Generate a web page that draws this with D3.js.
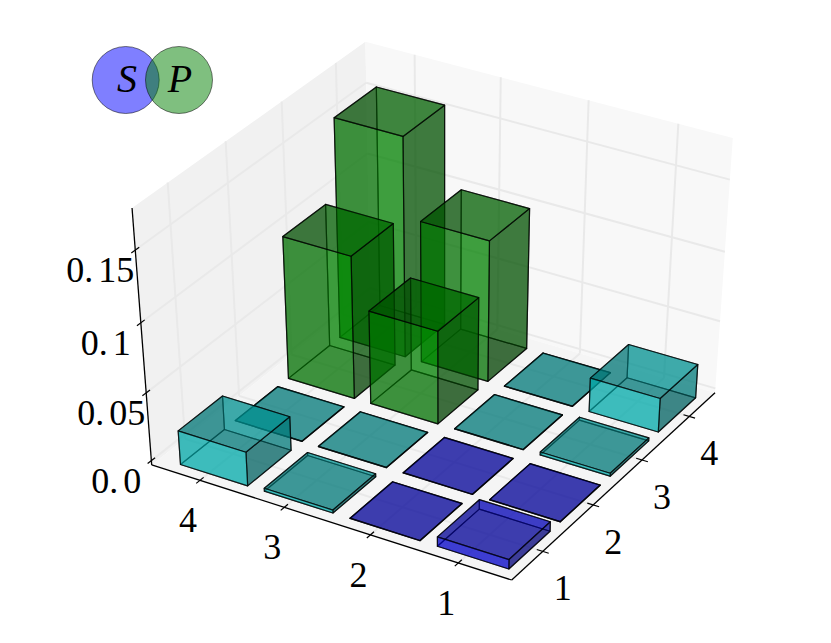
<!DOCTYPE html>
<html>
<head>
<meta charset="utf-8">
<style>
body { margin: 0; background: #fff; }
text { font-family: "Liberation Serif", serif; fill: #000; }
</style>
</head>
<body>
<script src="https://cdn.jsdelivr.net/npm/d3@7"></script>
<script>
// bar categories on the two floor axes
var xCats = [1, 2, 3, 4];
var yCats = [1, 2, 3, 4];
var zTicks = [0, 0.05, 0.1, 0.15];
var zLabels = ['0.0', '0.05', '0.1', '0.15'];

// heights, one row per y category
var heights = [
	[0.0070, 0.0002, 0.0022, 0.0250],
	[0.0002, 0.0002, 0.0002, 0.0002],
	[0.0022, 0.0002, 0.0682, 0.1028],
	[0.0250, 0.0002, 0.1038, 0.1587]
];
// colour family of each bar
var phases = [
	['blue', 'blue', 'teal', 'teal'],
	['blue', 'blue', 'teal', 'teal'],
	['teal', 'teal', 'green', 'green'],
	['teal', 'teal', 'green', 'green']
];

var baseColor = { blue: [0, 0, 250], teal: [0, 200, 200], green: [0, 132, 0] };
var shades = { top: 0.73, bottom: 0.34, frontLeft: 1.1, frontRight: 0.56, backLeft: 0.3, backRight: 0.7 };
var faceAlpha = 0.5;

var width = 831, height = 643;

// box coordinates 0..1 to screen: fitted perspective of the axes box
var origin = [511.7, 580], ax = [254.1, -159.4], ay = [-353.4, -94.8], az = [-29.2, -281.9];
var persp = [0.071, 0.0435, -0.0658];

function depth(p) {
	return 1 + persp[0] * p[0] + persp[1] * p[1] + persp[2] * p[2];
}

function project(p) {
	var w = depth(p);
	return [
		(origin[0] + ax[0] * p[0] + ay[0] * p[1] + az[0] * p[2]) / w,
		(origin[1] + ax[1] * p[0] + ay[1] * p[1] + az[1] * p[2]) / w
	];
}

var xScale = d3.scaleLinear().domain([1, 4]).range([0.144, 0.8655]);
var yScale = d3.scaleLinear().domain([1, 4]).range([0.143, 0.861]);
var zScale = d3.scaleLinear().domain([0, 0.15]).range([0.018, 0.845]);

var polygon = d3.line().curve(d3.curveLinearClosed);
var segment = d3.line();

var svg = d3.select("body").append("svg")
	.attr("width", width)
	.attr("height", height);

function drawPlane(corners, fill) {
	svg.append("path")
		.attr("d", polygon(corners.map(project)))
		.attr("fill", fill)
		.attr("stroke", "none");
}

function drawLine(a, b, color, lineWidth) {
	svg.append("path")
		.attr("d", segment([project(a), project(b)]))
		.attr("fill", "none")
		.attr("stroke", color)
		.attr("stroke-width", lineWidth);
}

// panes
drawPlane([[0, 1, 0], [1, 1, 0], [1, 1, 1], [0, 1, 1]], "#f1f1f1");
drawPlane([[1, 0, 0], [1, 1, 0], [1, 1, 1], [1, 0, 1]], "#f8f8f8");
drawPlane([[0, 0, 0], [1, 0, 0], [1, 1, 0], [0, 1, 0]], "#f5f5f5");

// grid
var gridColor = "#e9e9e9";
xCats.forEach(function(d) {
	var x = xScale(d);
	drawLine([x, 0, 0], [x, 1, 0], gridColor, 2);
	drawLine([x, 1, 0], [x, 1, 1], gridColor, 2);
});
yCats.forEach(function(d) {
	var y = yScale(d);
	drawLine([0, y, 0], [1, y, 0], gridColor, 2);
	drawLine([1, y, 0], [1, y, 1], gridColor, 2);
});
zTicks.forEach(function(d) {
	var z = zScale(d);
	drawLine([0, 1, z], [1, 1, z], gridColor, 2);
	drawLine([1, 1, z], [1, 0, z], gridColor, 2);
});

// axis lines, ticks and labels
drawLine([0, 0, 0], [1, 0, 0], "#000", 1.3);
drawLine([0, 0, 0], [0, 1, 0], "#000", 1.3);
drawLine([0, 1, 0], [0, 1, 1], "#000", 1.3);

var tickHalf = 0.016;

function label(pos, dx, dy, str) {
	var t = svg.append("text")
		.attr("x", pos[0] + dx)
		.attr("y", pos[1] + dy)
		.attr("text-anchor", "middle")
		.attr("dominant-baseline", "central")
		.attr("font-size", 36);
	var parts = str.split('.');
	if (parts.length == 2) {
		t.append("tspan").text(parts[0] + '.');
		t.append("tspan").attr("dx", 5).text(parts[1]);
	} else {
		t.text(str);
	}
}

xCats.forEach(function(d) {
	var x = xScale(d);
	drawLine([x, -tickHalf, 0], [x, tickHalf, 0], "#000", 1.2);
	label(project([x, 0, 0]), 20, 37, String(d));
});
yCats.forEach(function(d) {
	var y = yScale(d);
	drawLine([-tickHalf, y, 0], [tickHalf, y, 0], "#000", 1.2);
	label(project([0, y, 0]), -12, 40, String(d));
});
zTicks.forEach(function(d, i) {
	var z = zScale(d);
	drawLine([-tickHalf, 1, z], [tickHalf, 1, z], "#000", 1.2);
	label(project([0, 1, z]), -35, 20, zLabels[i]);
});

// bars: all faces sorted back to front
var barLow = -0.123, barHigh = 0.069;
var faces = [];

function addFace(corners, kind, family) {
	var mean = d3.mean(corners, depth);
	var c = baseColor[family].map(function(v) { return Math.round(v * shades[kind]); });
	faces.push({ corners: corners, mean: mean, fill: d3.rgb(c[0], c[1], c[2]) });
}

yCats.forEach(function(yc, r) {
	xCats.forEach(function(xc, q) {
		var x0 = xScale(xc) + barLow, x1 = xScale(xc) + barHigh;
		var y0 = yScale(yc) + barLow, y1 = yScale(yc) + barHigh;
		var z0 = zScale(0), z1 = zScale(heights[r][q]);
		var family = phases[r][q];
		addFace([[x0, y0, z0], [x1, y0, z0], [x1, y1, z0], [x0, y1, z0]], "bottom", family);
		addFace([[x0, y0, z1], [x1, y0, z1], [x1, y1, z1], [x0, y1, z1]], "top", family);
		addFace([[x0, y0, z0], [x0, y1, z0], [x0, y1, z1], [x0, y0, z1]], "frontLeft", family);
		addFace([[x0, y0, z0], [x1, y0, z0], [x1, y0, z1], [x0, y0, z1]], "frontRight", family);
		addFace([[x0, y1, z0], [x1, y1, z0], [x1, y1, z1], [x0, y1, z1]], "backLeft", family);
		addFace([[x1, y0, z0], [x1, y1, z0], [x1, y1, z1], [x1, y0, z1]], "backRight", family);
	});
});

faces.sort(function(a, b) { return d3.descending(a.mean, b.mean); });

svg.append("g").selectAll("path")
	.data(faces)
	.enter().append("path")
	.attr("d", function(d) { return polygon(d.corners.map(project)); })
	.attr("fill", function(d) { return d.fill; })
	.attr("fill-opacity", faceAlpha)
	.attr("stroke", "#000")
	.attr("stroke-opacity", 0.7)
	.attr("stroke-width", 1.2)
	.attr("stroke-linejoin", "round");

// small S / P venn in the corner
var venn = svg.append("g");
venn.append("circle").attr("cx", 125.7).attr("cy", 80).attr("r", 33.5)
	.attr("fill", "#0000ff").attr("fill-opacity", 0.5)
	.attr("stroke", "#000").attr("stroke-opacity", 0.5);
venn.append("circle").attr("cx", 179).attr("cy", 80).attr("r", 33.5)
	.attr("fill", "#008000").attr("fill-opacity", 0.5)
	.attr("stroke", "#000").attr("stroke-opacity", 0.5);
venn.append("text").attr("x", 127).attr("y", 78).attr("text-anchor", "middle")
	.attr("dominant-baseline", "central").attr("font-size", 40).attr("font-style", "italic").text("S");
venn.append("text").attr("x", 180).attr("y", 78).attr("text-anchor", "middle")
	.attr("dominant-baseline", "central").attr("font-size", 40).attr("font-style", "italic").text("P");
</script>
</body>
</html>
